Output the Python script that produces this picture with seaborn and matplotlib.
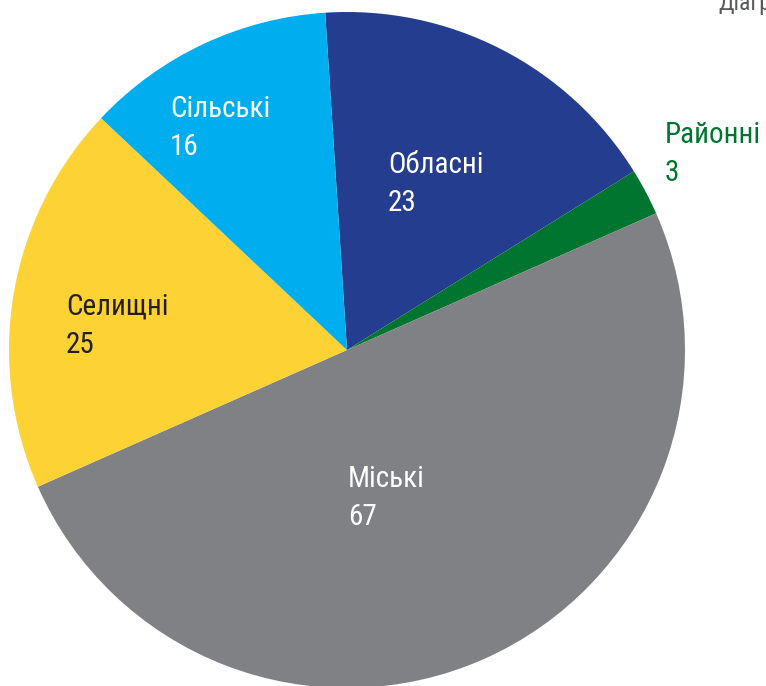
import matplotlib
matplotlib.use("Agg")
import matplotlib.pyplot as plt
import seaborn as sns

sns.set_theme(style="white")
plt.rcParams['font.family'] = ['Roboto Condensed', 'DejaVu Sans']

# data
categories = ['Обласні', 'Районні', 'Міські', 'Селищні', 'Сільські']
values = [23, 3, 67, 25, 16]
colors = ['#253d8f', '#00752f', '#808184', '#fdd235', '#00adee']
text_colors = ['white', '#00752f', 'white', '#231f20', 'white']

# label anchors (left edge, first-line baseline) in pie units
label_pos = [(0.121, 0.524), (0.941, 0.612), (0.003, -0.405), (-0.831, 0.104), (-0.524, 0.689)]
line_step = 0.1124

fig = plt.figure(figsize=(7.66, 6.86), dpi=100)
ax = fig.add_axes([9 / 766, -2 / 686, 676 / 766, 676 / 686])

ax.pie(values, colors=colors, startangle=93.7, counterclock=False,
       radius=1, wedgeprops=dict(linewidth=0))
ax.set_xlim(-1, 1)
ax.set_ylim(-1, 1)
ax.set_aspect('equal')
ax.axis('off')

for name, val, (x, y), tc in zip(categories, values, label_pos, text_colors):
    ax.text(x, y, name, ha='left', va='baseline', color=tc, fontsize=21, clip_on=False)
    ax.text(x, y - line_step, str(val), ha='left', va='baseline', color=tc,
            fontsize=21, clip_on=False)

fig.text(718 / 766, 1 - 10 / 686, 'Діаграма', color='#58595b', fontsize=17,
         ha='left', va='baseline')

fig.savefig('out.png', dpi=100)
